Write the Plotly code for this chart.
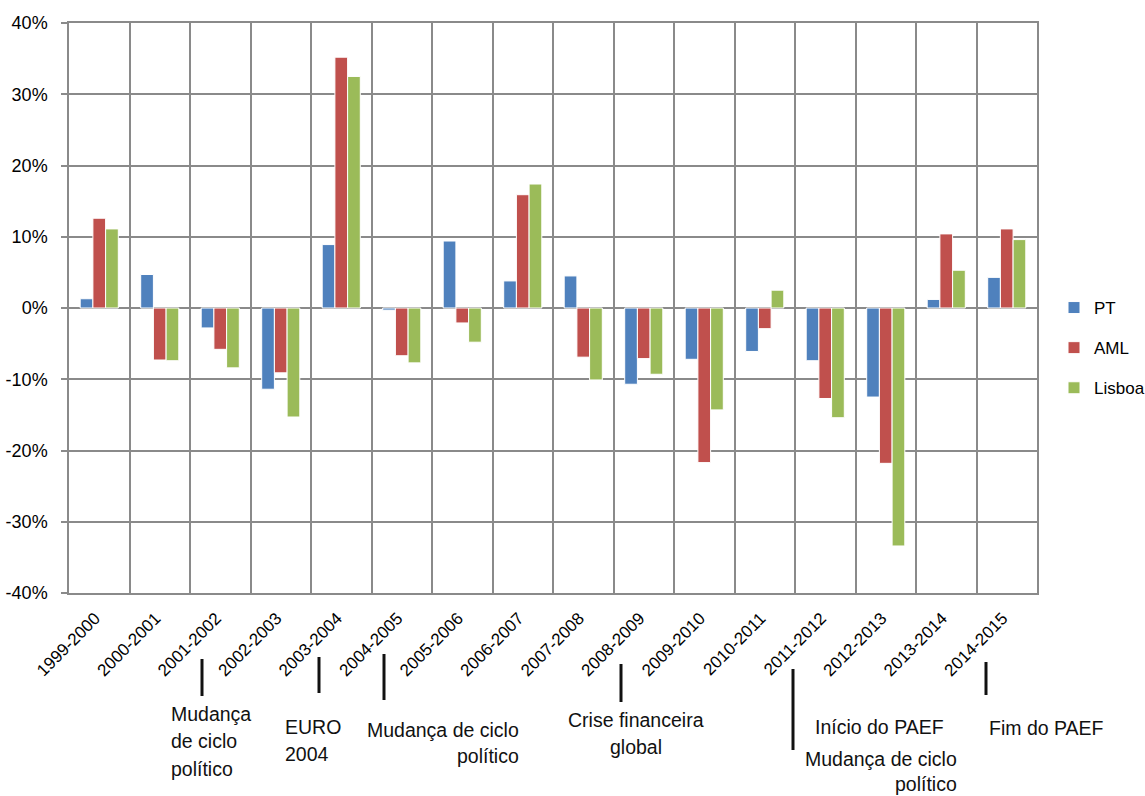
import plotly.graph_objects as go

categories = ["1999-2000", "2000-2001", "2001-2002", "2002-2003", "2003-2004",
              "2004-2005", "2005-2006", "2006-2007", "2007-2008", "2008-2009",
              "2009-2010", "2010-2011", "2011-2012", "2012-2013", "2013-2014",
              "2014-2015"]
pt = [1.3, 4.7, -2.8, -11.4, 8.9, -0.3, 9.4, 3.8, 4.5, -10.7, -7.2, -6.1, -7.4, -12.5, 1.2, 4.3]
aml = [12.6, -7.3, -5.8, -9.1, 35.2, -6.7, -2.1, 15.9, -6.9, -7.1, -21.7, -2.9, -12.7, -21.8, 10.4, 11.1]
lisboa = [11.1, -7.4, -8.4, -15.3, 32.5, -7.7, -4.8, 17.4, -10.1, -9.3, -14.3, 2.5, -15.4, -33.4, 5.3, 9.6]
series_names = ["PT", "AML", "Lisboa"]
series_colors = ["#4F81BD", "#C0504D", "#9BBB59"]
y_tickvals = [-40, -30, -20, -10, 0, 10, 20, 30, 40]
y_ticktext = ["-40%", "-30%", "-20%", "-10%", "0%", "10%", "20%", "30%", "40%"]

# event notes under the axis: (text lines, pixel anchor x, first baseline y, line step, xanchor)
events = [
    (["Mudança", "de ciclo", "político"], 169, 722, 27.5, "left"),
    (["EURO", "2004"], 283, 735, 27.5, "left"),
    (["Mudança de ciclo", "político"], 521, 738, 26.5, "right"),
    (["Crise financeira", "global"], 636, 728, 27, "center"),
    (["Início do PAEF"], 813, 735, 27, "left"),
    (["Mudança de ciclo", "político"], 959, 767, 25.5, "right"),
    (["Fim do PAEF"], 987, 736, 27, "left"),
]
event_lines = [(202, 659, 696), (319, 657, 693), (384, 654, 700), (621, 664, 702),
               (793, 669, 750), (986, 662, 695)]

W, H = 1145, 796
ML, MR, MT, MB = 69, 108, 23, 203
X0, X1, Y0, Y1 = ML, W - MR, MT, H - MB


def px(x):
    return (x - X0) / (X1 - X0)


def py(y):
    return (Y1 - y) / (Y1 - Y0)


fig = go.Figure()
for name, vals, col in zip(series_names, [pt, aml, lisboa], series_colors):
    fig.add_trace(go.Bar(
        x=categories, y=vals, name=name, legendgroup=name,
        marker=dict(color=col, line=dict(color="white", width=1)),
    ))

grid_col = "#8a8a8a"
FS = 19.5
ann_font = dict(family="Liberation Sans, Arial", size=FS, color="#111111")

annotations = []
for lines, x, base, step, xa in events:
    for i, t in enumerate(lines):
        b = base + i * step
        annotations.append(dict(text=t, x=px(x), y=py(b - 0.36 * FS - 1), xref="paper",
                                yref="paper", xanchor=xa, yanchor="middle", align=xa,
                                showarrow=False, font=ann_font))
shapes = []
for x, ya, yb in event_lines:
    shapes.append(dict(type="line", xref="paper", yref="paper", x0=px(x), x1=px(x),
                       y0=py(ya), y1=py(yb), line=dict(color="#111111", width=3)))

fig.update_layout(
    width=W, height=H,
    margin=dict(l=ML, r=MR, t=MT, b=MB, pad=0, autoexpand=False),
    paper_bgcolor="white", plot_bgcolor="white",
    barmode="group", bargap=0.37, bargroupgap=0,
    font=dict(family="Liberation Sans, Arial", color="black"),
    xaxis=dict(
        type="category", tickson="boundaries", showgrid=True, gridcolor=grid_col,
        gridwidth=1.5, tickangle=-45, ticks="",
        tickfont=dict(family="Liberation Sans, Arial", size=17),
        ticklabelstandoff=7, ticklabelshift=-4,
        showline=True, linecolor=grid_col, linewidth=1.5, mirror=True,
        range=[-0.5, 15.5], automargin=False,
    ),
    yaxis=dict(
        range=[-40, 40], tickvals=y_tickvals, ticktext=y_ticktext,
        showgrid=True, gridcolor=grid_col, gridwidth=1.5, zeroline=True,
        zerolinecolor=grid_col, zerolinewidth=1.5,
        ticks="outside", ticklen=6, tickcolor=grid_col, tickwidth=1.5,
        tickfont=dict(family="Liberation Sans, Arial", size=18),
        ticklabelstandoff=10, automargin=False,
        showline=True, linecolor=grid_col, linewidth=1.5, mirror=True,
    ),
    legend=dict(
        x=px(1054), y=py(290), xanchor="left", yanchor="top",
        font=dict(family="Liberation Sans, Arial", size=17),
        traceorder="grouped", tracegroupgap=15, bgcolor="rgba(0,0,0,0)",
    ),
    annotations=annotations,
    shapes=shapes,
)

fig.write_html("out.html", config={"displayModeBar": False},
               post_script="document.body.style.margin='0';")
